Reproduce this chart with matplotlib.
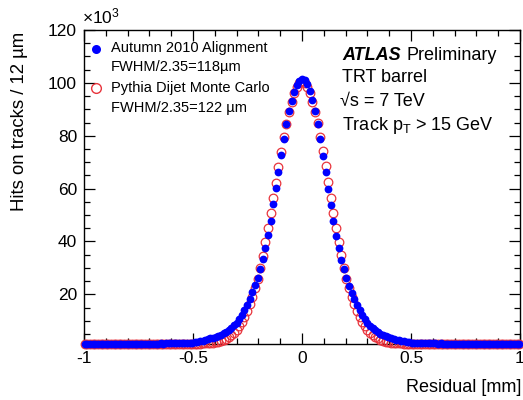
import numpy as np
import matplotlib
matplotlib.use("Agg")
import matplotlib.pyplot as plt
from matplotlib.ticker import MultipleLocator

plt.rcParams['font.family'] = ['Liberation Sans', 'DejaVu Sans']
plt.rcParams['mathtext.fontset'] = 'custom'
plt.rcParams['mathtext.rm'] = 'Liberation Sans'
plt.rcParams['mathtext.it'] = 'Liberation Sans:italic'

# residual bin centres, 12 um bins from -1 to 1 mm
residual = np.arange(-83, 84) * 0.012

# hits per bin, in units of 10^3
data_hits = [
    1.30, 1.32, 1.31, 1.30, 1.33, 1.31, 1.32, 1.30, 1.31, 1.33,
    1.32, 1.31, 1.33, 1.32, 1.34, 1.33, 1.32, 1.34, 1.35, 1.33,
    1.34, 1.35, 1.34, 1.36, 1.35, 1.37, 1.36, 1.38, 1.37, 1.39,
    1.38, 1.40, 1.39, 1.41, 1.40, 1.42, 1.43, 1.44,
    1.45, 1.5, 1.6, 1.75, 1.9, 2.1, 2.3, 2.5, 2.75, 3.0,
    3.3, 3.6, 3.9, 4.3, 4.7, 5.2, 5.8, 6.5, 7.3, 8.2,
    9.3, 10.7, 12.3, 14.1, 16.1, 18.3, 20.7, 23.4, 26.3, 29.6,
    33.2, 37.5, 42.4, 47.9, 54.0, 60.2, 66.4, 72.6, 78.9, 84.6,
    89.4, 93.2, 96.6, 99.2, 100.8,
    101.5,
    100.9, 99.4, 96.8, 93.4, 89.2, 84.3, 78.6, 72.5, 66.3, 59.9,
    53.8, 47.7, 42.2, 37.4, 33.1, 29.4, 26.1, 23.1, 20.5, 18.1,
    15.9, 13.9, 12.1, 10.6, 9.2, 8.1, 7.2, 6.4, 5.7, 5.1,
    4.6, 4.2, 3.8, 3.5, 3.2, 2.9, 2.65, 2.4, 2.2, 2.0,
    1.85, 1.7, 1.58, 1.5, 1.45,
    1.43, 1.42, 1.41, 1.40, 1.41, 1.39, 1.38, 1.39, 1.37, 1.36,
    1.37, 1.35, 1.36, 1.34, 1.35, 1.33, 1.34, 1.33, 1.32, 1.33,
    1.31, 1.32, 1.31, 1.30, 1.32, 1.30, 1.31, 1.29, 1.30, 1.31,
    1.29, 1.30, 1.28, 1.29, 1.30, 1.28, 1.29, 1.28]

mc_hits = [
    1.28, 1.30, 1.29, 1.31, 1.29, 1.30, 1.32, 1.30, 1.31, 1.30,
    1.32, 1.31, 1.30, 1.32, 1.33, 1.31, 1.32, 1.33, 1.32, 1.34,
    1.33, 1.32, 1.34, 1.33, 1.35, 1.34, 1.33, 1.35, 1.34, 1.36,
    1.35, 1.34, 1.36, 1.35, 1.34, 1.36, 1.35, 1.36, 1.35, 1.36,
    1.36, 1.35, 1.36, 1.35,
    1.37, 1.40, 1.44, 1.50, 1.58, 1.70, 1.86, 2.1, 2.35, 2.7,
    3.2, 3.8, 4.5, 5.4, 6.5, 7.9, 9.6, 11.5, 13.7, 16.2,
    19.0, 22.2, 25.8, 30.0, 34.6, 39.7, 45.0, 50.6, 56.4, 62.3,
    68.2, 73.9, 79.4, 84.5, 89.0, 92.9, 96.1, 98.5, 100.0,
    100.6,
    99.9, 98.4, 96.0, 92.8, 89.1, 84.7, 79.6, 74.1, 68.4, 62.5,
    56.6, 50.8, 45.2, 39.9, 34.8, 30.1, 25.9, 22.3, 19.1, 16.3,
    13.8, 11.6, 9.7, 8.0, 6.6, 5.5, 4.6, 3.9, 3.3, 2.8,
    2.4, 2.1, 1.88, 1.72, 1.6, 1.52, 1.46, 1.41, 1.38,
    1.36, 1.35, 1.36, 1.34, 1.35, 1.36, 1.34, 1.35, 1.33, 1.34,
    1.35, 1.33, 1.34, 1.32, 1.33, 1.34, 1.32, 1.33, 1.31, 1.32,
    1.33, 1.31, 1.32, 1.30, 1.31, 1.32, 1.30, 1.31, 1.29, 1.30,
    1.31, 1.29, 1.30, 1.28, 1.29, 1.30, 1.28, 1.29, 1.28, 1.29,
    1.27, 1.28, 1.29, 1.28]

x_ticks = [-1, -0.5, 0, 0.5, 1]
x_tick_labels = ['-1', '-0.5', '0', '0.5', '1']
y_ticks = [20, 40, 60, 80, 100, 120]

W, H = 523, 400
fig = plt.figure(figsize=(W / 100, H / 100), dpi=100)
ax = fig.add_axes([84 / W, 56 / H, 436 / W, 314 / H])

red = '#e8343c'
ax.plot(residual, mc_hits, 'o', mfc='none', mec=red, mew=0.9, ms=6.2, clip_on=False, zorder=3)
ax.plot(residual, data_hits, 'o', color='#0000ff', ms=5.6, mew=0, clip_on=False, zorder=4)

ax.set_xlim(-1, 1)
ax.set_ylim(1.2, 120)
ax.set_xticks(x_ticks)
ax.set_xticklabels(x_tick_labels)
ax.xaxis.set_minor_locator(MultipleLocator(0.1))
ax.set_yticks(y_ticks)
ax.yaxis.set_minor_locator(MultipleLocator(5))
ax.tick_params(which='both', direction='in', top=True, right=True, labelsize=12.5, width=0.9)
ax.tick_params(which='major', length=8, pad=5)
ax.tick_params(which='minor', length=4)
for s in ax.spines.values():
    s.set_linewidth(1.0)

fig.text(20 / W, 1 - 32 / H, 'Hits on tracks / 12 µm', rotation=90, ha='center', va='top', fontsize=13.4)
fig.text(521 / W, 1 - 388 / H, 'Residual [mm]', ha='right', va='center', fontsize=13)
fig.text(82 / W, 1 - 16 / H, '×10$^{3}$', ha='left', va='center', fontsize=12.5)

# legend
def px(x, y):
    return (x / W, 1 - y / H)

fig.lines.append(plt.Line2D([px(96, 49)[0]], [px(96, 49)[1]], marker='o', color='#0000ff', ms=6.5, mew=0, ls='none', transform=fig.transFigure))
fig.lines.append(plt.Line2D([px(96, 88)[0]], [px(96, 88)[1]], marker='o', mfc='none', mec=red, mew=1.0, ms=7, ls='none', transform=fig.transFigure))
leg_fs = 10.5
fig.text(*px(111, 48), 'Autumn 2010 Alignment', va='center', fontsize=leg_fs)
fig.text(*px(111, 67), 'FWHM/2.35=118µm', va='center', fontsize=leg_fs)
fig.text(*px(111, 88), 'Pythia Dijet Monte Carlo', va='center', fontsize=leg_fs)
fig.text(*px(111, 108), 'FWHM/2.35=122 µm', va='center', fontsize=leg_fs)

# labels on the right
fs = 13
fig.text(*px(342, 55), 'ATLAS', va='center', fontsize=fs, fontweight='bold', fontstyle='italic')
fig.text(*px(407, 55), 'Preliminary', va='center', fontsize=fs)
fig.text(*px(342, 78), 'TRT barrel', va='center', fontsize=fs)
fig.text(*px(340, 101), '√s = 7 TeV', va='center', fontsize=fs)
fig.text(*px(342, 125), 'Track p$_{\\mathrm{T}}$ > 15 GeV', va='center', fontsize=fs)

fig.savefig('out.png', dpi=100)
